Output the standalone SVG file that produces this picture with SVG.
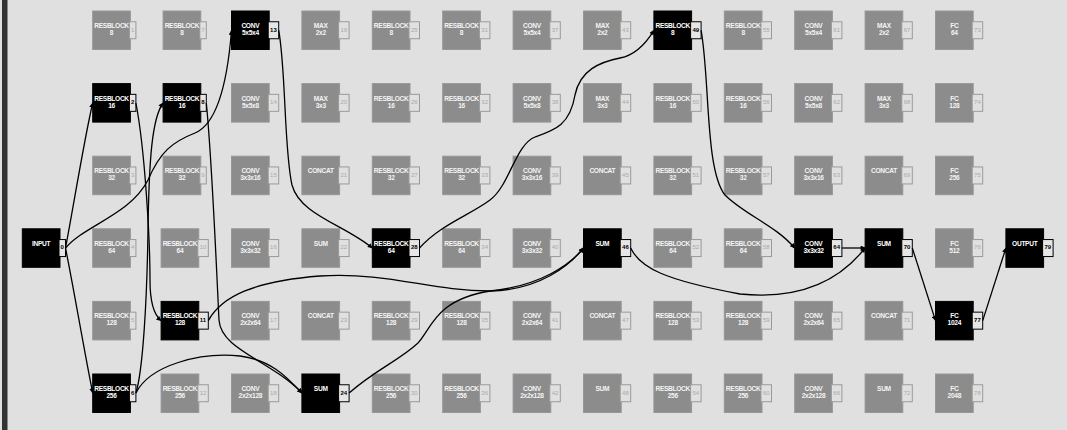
<svg xmlns="http://www.w3.org/2000/svg" width="1067" height="430" viewBox="0 0 1067 430">
<style>
.bg{fill:#e0e0e0}
.node .b{fill:#8c8c8c;stroke:#979797;stroke-width:1}
.node .p{fill:#e0e0e0;stroke:#9a9a9a;stroke-width:1}
.node .l{font-family:"Liberation Sans",Arial,sans-serif;font-weight:bold;font-size:6.6px;letter-spacing:-0.3px;fill:#f4f4f4;text-anchor:middle}
.node .pt{font-family:"Liberation Sans",Arial,sans-serif;font-size:6px;fill:#a8a8a8;text-anchor:middle}
.on .b{fill:#000;stroke:#000}
.on .p{fill:#e6e6e6;stroke:#000}
.on .l{fill:#fff}
.on .pt{fill:#000;font-weight:bold}
.edges path{fill:none;stroke:#000;stroke-width:1.3;marker-end:url(#ah)}
</style>
<defs>
<marker id="ah" viewBox="0 0 10 10" refX="9" refY="5" markerWidth="6" markerHeight="5" markerUnits="userSpaceOnUse" orient="auto">
<path d="M0,0 L10,5 L0,10 z" fill="#000"/>
</marker>
</defs>
<rect class="bg" x="0" y="0" width="1067" height="430"/>
<rect x="2" y="0" width="5.5" height="430" fill="#333"/>

<g id="n0" class="node on" transform="translate(22.3,228.8)"><rect class="b" width="37.7" height="38.5"/><rect class="p" x="36.7" y="10.75" width="6.5" height="17"/><text class="l" x="18.85" y="17">INPUT</text><text class="pt" x="39.95" y="20.5">0</text></g>

<g id="n1" class="node" transform="translate(92.7,11)"><rect class="b" width="37.7" height="38.5"/><rect class="p" x="36.7" y="10.75" width="6.5" height="17"/><text class="l" x="18.85" y="17">RESBLOCK</text><text class="l" x="18.85" y="24">8</text><text class="pt" x="39.95" y="20.5">1</text></g>
<g id="n2" class="node on" transform="translate(92.7,83.6)"><rect class="b" width="37.7" height="38.5"/><rect class="p" x="36.7" y="10.75" width="6.5" height="17"/><text class="l" x="18.85" y="17">RESBLOCK</text><text class="l" x="18.85" y="24">16</text><text class="pt" x="39.95" y="20.5">2</text></g>
<g id="n3" class="node" transform="translate(92.7,156.2)"><rect class="b" width="37.7" height="38.5"/><rect class="p" x="36.7" y="10.75" width="6.5" height="17"/><text class="l" x="18.85" y="17">RESBLOCK</text><text class="l" x="18.85" y="24">32</text><text class="pt" x="39.95" y="20.5">3</text></g>
<g id="n4" class="node" transform="translate(92.7,228.8)"><rect class="b" width="37.7" height="38.5"/><rect class="p" x="36.7" y="10.75" width="6.5" height="17"/><text class="l" x="18.85" y="17">RESBLOCK</text><text class="l" x="18.85" y="24">64</text><text class="pt" x="39.95" y="20.5">4</text></g>
<g id="n5" class="node" transform="translate(92.7,301.4)"><rect class="b" width="37.7" height="38.5"/><rect class="p" x="36.7" y="10.75" width="6.5" height="17"/><text class="l" x="18.85" y="17">RESBLOCK</text><text class="l" x="18.85" y="24">128</text><text class="pt" x="39.95" y="20.5">5</text></g>
<g id="n6" class="node on" transform="translate(92.7,374)"><rect class="b" width="37.7" height="38.5"/><rect class="p" x="36.7" y="10.75" width="6.5" height="17"/><text class="l" x="18.85" y="17">RESBLOCK</text><text class="l" x="18.85" y="24">256</text><text class="pt" x="39.95" y="20.5">6</text></g>

<g id="n7" class="node" transform="translate(163.1,11)"><rect class="b" width="37.7" height="38.5"/><rect class="p" x="36.7" y="10.75" width="6.5" height="17"/><text class="l" x="18.85" y="17">RESBLOCK</text><text class="l" x="18.85" y="24">8</text><text class="pt" x="39.95" y="20.5">7</text></g>
<g id="n8" class="node on" transform="translate(163.1,83.6)"><rect class="b" width="37.7" height="38.5"/><rect class="p" x="36.7" y="10.75" width="6.5" height="17"/><text class="l" x="18.85" y="17">RESBLOCK</text><text class="l" x="18.85" y="24">16</text><text class="pt" x="39.95" y="20.5">8</text></g>
<g id="n9" class="node" transform="translate(163.1,156.2)"><rect class="b" width="37.7" height="38.5"/><rect class="p" x="36.7" y="10.75" width="6.5" height="17"/><text class="l" x="18.85" y="17">RESBLOCK</text><text class="l" x="18.85" y="24">32</text><text class="pt" x="39.95" y="20.5">9</text></g>
<g id="n10" class="node" transform="translate(161.1,228.8)"><rect class="b" width="37.7" height="38.5"/><rect class="p" x="36.7" y="10.75" width="10.5" height="17"/><text class="l" x="18.85" y="17">RESBLOCK</text><text class="l" x="18.85" y="24">64</text><text class="pt" x="41.95" y="20.5">10</text></g>
<g id="n11" class="node on" transform="translate(161.1,301.4)"><rect class="b" width="37.7" height="38.5"/><rect class="p" x="36.7" y="10.75" width="10.5" height="17"/><text class="l" x="18.85" y="17">RESBLOCK</text><text class="l" x="18.85" y="24">128</text><text class="pt" x="41.95" y="20.5">11</text></g>
<g id="n12" class="node" transform="translate(161.1,374)"><rect class="b" width="37.7" height="38.5"/><rect class="p" x="36.7" y="10.75" width="10.5" height="17"/><text class="l" x="18.85" y="17">RESBLOCK</text><text class="l" x="18.85" y="24">256</text><text class="pt" x="41.95" y="20.5">12</text></g>

<g id="n13" class="node on" transform="translate(231.5,11)"><rect class="b" width="37.7" height="38.5"/><rect class="p" x="36.7" y="10.75" width="10.5" height="17"/><text class="l" x="18.85" y="17">CONV</text><text class="l" x="18.85" y="24">5x5x4</text><text class="pt" x="41.95" y="20.5">13</text></g>
<g id="n14" class="node" transform="translate(231.5,83.6)"><rect class="b" width="37.7" height="38.5"/><rect class="p" x="36.7" y="10.75" width="10.5" height="17"/><text class="l" x="18.85" y="17">CONV</text><text class="l" x="18.85" y="24">5x5x8</text><text class="pt" x="41.95" y="20.5">14</text></g>
<g id="n15" class="node" transform="translate(231.5,156.2)"><rect class="b" width="37.7" height="38.5"/><rect class="p" x="36.7" y="10.75" width="10.5" height="17"/><text class="l" x="18.85" y="17">CONV</text><text class="l" x="18.85" y="24">3x3x16</text><text class="pt" x="41.95" y="20.5">15</text></g>
<g id="n16" class="node" transform="translate(231.5,228.8)"><rect class="b" width="37.7" height="38.5"/><rect class="p" x="36.7" y="10.75" width="10.5" height="17"/><text class="l" x="18.85" y="17">CONV</text><text class="l" x="18.85" y="24">3x3x32</text><text class="pt" x="41.95" y="20.5">16</text></g>
<g id="n17" class="node" transform="translate(231.5,301.4)"><rect class="b" width="37.7" height="38.5"/><rect class="p" x="36.7" y="10.75" width="10.5" height="17"/><text class="l" x="18.85" y="17">CONV</text><text class="l" x="18.85" y="24">2x2x64</text><text class="pt" x="41.95" y="20.5">17</text></g>
<g id="n18" class="node" transform="translate(231.5,374)"><rect class="b" width="37.7" height="38.5"/><rect class="p" x="36.7" y="10.75" width="10.5" height="17"/><text class="l" x="18.85" y="17">CONV</text><text class="l" x="18.85" y="24">2x2x128</text><text class="pt" x="41.95" y="20.5">18</text></g>

<g id="n19" class="node" transform="translate(301.9,11)"><rect class="b" width="37.7" height="38.5"/><rect class="p" x="36.7" y="10.75" width="10.5" height="17"/><text class="l" x="18.85" y="17">MAX</text><text class="l" x="18.85" y="24">2x2</text><text class="pt" x="41.95" y="20.5">19</text></g>
<g id="n20" class="node" transform="translate(301.9,83.6)"><rect class="b" width="37.7" height="38.5"/><rect class="p" x="36.7" y="10.75" width="10.5" height="17"/><text class="l" x="18.85" y="17">MAX</text><text class="l" x="18.85" y="24">3x3</text><text class="pt" x="41.95" y="20.5">20</text></g>
<g id="n21" class="node" transform="translate(301.9,156.2)"><rect class="b" width="37.7" height="38.5"/><rect class="p" x="36.7" y="10.75" width="10.5" height="17"/><text class="l" x="18.85" y="17">CONCAT</text><text class="pt" x="41.95" y="20.5">21</text></g>
<g id="n22" class="node" transform="translate(301.9,228.8)"><rect class="b" width="37.7" height="38.5"/><rect class="p" x="36.7" y="10.75" width="10.5" height="17"/><text class="l" x="18.85" y="17">SUM</text><text class="pt" x="41.95" y="20.5">22</text></g>
<g id="n23" class="node" transform="translate(301.9,301.4)"><rect class="b" width="37.7" height="38.5"/><rect class="p" x="36.7" y="10.75" width="10.5" height="17"/><text class="l" x="18.85" y="17">CONCAT</text><text class="pt" x="41.95" y="20.5">23</text></g>
<g id="n24" class="node on" transform="translate(301.9,374)"><rect class="b" width="37.7" height="38.5"/><rect class="p" x="36.7" y="10.75" width="10.5" height="17"/><text class="l" x="18.85" y="17">SUM</text><text class="pt" x="41.95" y="20.5">24</text></g>

<g id="n25" class="node" transform="translate(372.3,11)"><rect class="b" width="37.7" height="38.5"/><rect class="p" x="36.7" y="10.75" width="10.5" height="17"/><text class="l" x="18.85" y="17">RESBLOCK</text><text class="l" x="18.85" y="24">8</text><text class="pt" x="41.95" y="20.5">25</text></g>
<g id="n26" class="node" transform="translate(372.3,83.6)"><rect class="b" width="37.7" height="38.5"/><rect class="p" x="36.7" y="10.75" width="10.5" height="17"/><text class="l" x="18.85" y="17">RESBLOCK</text><text class="l" x="18.85" y="24">16</text><text class="pt" x="41.95" y="20.5">26</text></g>
<g id="n27" class="node" transform="translate(372.3,156.2)"><rect class="b" width="37.7" height="38.5"/><rect class="p" x="36.7" y="10.75" width="10.5" height="17"/><text class="l" x="18.85" y="17">RESBLOCK</text><text class="l" x="18.85" y="24">32</text><text class="pt" x="41.95" y="20.5">27</text></g>
<g id="n28" class="node on" transform="translate(372.3,228.8)"><rect class="b" width="37.7" height="38.5"/><rect class="p" x="36.7" y="10.75" width="10.5" height="17"/><text class="l" x="18.85" y="17">RESBLOCK</text><text class="l" x="18.85" y="24">64</text><text class="pt" x="41.95" y="20.5">28</text></g>
<g id="n29" class="node" transform="translate(372.3,301.4)"><rect class="b" width="37.7" height="38.5"/><rect class="p" x="36.7" y="10.75" width="10.5" height="17"/><text class="l" x="18.85" y="17">RESBLOCK</text><text class="l" x="18.85" y="24">128</text><text class="pt" x="41.95" y="20.5">29</text></g>
<g id="n30" class="node" transform="translate(372.3,374)"><rect class="b" width="37.7" height="38.5"/><rect class="p" x="36.7" y="10.75" width="10.5" height="17"/><text class="l" x="18.85" y="17">RESBLOCK</text><text class="l" x="18.85" y="24">256</text><text class="pt" x="41.95" y="20.5">30</text></g>

<g id="n31" class="node" transform="translate(442.7,11)"><rect class="b" width="37.7" height="38.5"/><rect class="p" x="36.7" y="10.75" width="10.5" height="17"/><text class="l" x="18.85" y="17">RESBLOCK</text><text class="l" x="18.85" y="24">8</text><text class="pt" x="41.95" y="20.5">31</text></g>
<g id="n32" class="node" transform="translate(442.7,83.6)"><rect class="b" width="37.7" height="38.5"/><rect class="p" x="36.7" y="10.75" width="10.5" height="17"/><text class="l" x="18.85" y="17">RESBLOCK</text><text class="l" x="18.85" y="24">16</text><text class="pt" x="41.95" y="20.5">32</text></g>
<g id="n33" class="node" transform="translate(442.7,156.2)"><rect class="b" width="37.7" height="38.5"/><rect class="p" x="36.7" y="10.75" width="10.5" height="17"/><text class="l" x="18.85" y="17">RESBLOCK</text><text class="l" x="18.85" y="24">32</text><text class="pt" x="41.95" y="20.5">33</text></g>
<g id="n34" class="node" transform="translate(442.7,228.8)"><rect class="b" width="37.7" height="38.5"/><rect class="p" x="36.7" y="10.75" width="10.5" height="17"/><text class="l" x="18.85" y="17">RESBLOCK</text><text class="l" x="18.85" y="24">64</text><text class="pt" x="41.95" y="20.5">34</text></g>
<g id="n35" class="node" transform="translate(442.7,301.4)"><rect class="b" width="37.7" height="38.5"/><rect class="p" x="36.7" y="10.75" width="10.5" height="17"/><text class="l" x="18.85" y="17">RESBLOCK</text><text class="l" x="18.85" y="24">128</text><text class="pt" x="41.95" y="20.5">35</text></g>
<g id="n36" class="node" transform="translate(442.7,374)"><rect class="b" width="37.7" height="38.5"/><rect class="p" x="36.7" y="10.75" width="10.5" height="17"/><text class="l" x="18.85" y="17">RESBLOCK</text><text class="l" x="18.85" y="24">256</text><text class="pt" x="41.95" y="20.5">36</text></g>

<g id="n37" class="node" transform="translate(513.1,11)"><rect class="b" width="37.7" height="38.5"/><rect class="p" x="36.7" y="10.75" width="10.5" height="17"/><text class="l" x="18.85" y="17">CONV</text><text class="l" x="18.85" y="24">5x5x4</text><text class="pt" x="41.95" y="20.5">37</text></g>
<g id="n38" class="node" transform="translate(513.1,83.6)"><rect class="b" width="37.7" height="38.5"/><rect class="p" x="36.7" y="10.75" width="10.5" height="17"/><text class="l" x="18.85" y="17">CONV</text><text class="l" x="18.85" y="24">5x5x8</text><text class="pt" x="41.95" y="20.5">38</text></g>
<g id="n39" class="node" transform="translate(513.1,156.2)"><rect class="b" width="37.7" height="38.5"/><rect class="p" x="36.7" y="10.75" width="10.5" height="17"/><text class="l" x="18.85" y="17">CONV</text><text class="l" x="18.85" y="24">3x3x16</text><text class="pt" x="41.95" y="20.5">39</text></g>
<g id="n40" class="node" transform="translate(513.1,228.8)"><rect class="b" width="37.7" height="38.5"/><rect class="p" x="36.7" y="10.75" width="10.5" height="17"/><text class="l" x="18.85" y="17">CONV</text><text class="l" x="18.85" y="24">3x3x32</text><text class="pt" x="41.95" y="20.5">40</text></g>
<g id="n41" class="node" transform="translate(513.1,301.4)"><rect class="b" width="37.7" height="38.5"/><rect class="p" x="36.7" y="10.75" width="10.5" height="17"/><text class="l" x="18.85" y="17">CONV</text><text class="l" x="18.85" y="24">2x2x64</text><text class="pt" x="41.95" y="20.5">41</text></g>
<g id="n42" class="node" transform="translate(513.1,374)"><rect class="b" width="37.7" height="38.5"/><rect class="p" x="36.7" y="10.75" width="10.5" height="17"/><text class="l" x="18.85" y="17">CONV</text><text class="l" x="18.85" y="24">2x2x128</text><text class="pt" x="41.95" y="20.5">42</text></g>

<g id="n43" class="node" transform="translate(583.5,11)"><rect class="b" width="37.7" height="38.5"/><rect class="p" x="36.7" y="10.75" width="10.5" height="17"/><text class="l" x="18.85" y="17">MAX</text><text class="l" x="18.85" y="24">2x2</text><text class="pt" x="41.95" y="20.5">43</text></g>
<g id="n44" class="node" transform="translate(583.5,83.6)"><rect class="b" width="37.7" height="38.5"/><rect class="p" x="36.7" y="10.75" width="10.5" height="17"/><text class="l" x="18.85" y="17">MAX</text><text class="l" x="18.85" y="24">3x3</text><text class="pt" x="41.95" y="20.5">44</text></g>
<g id="n45" class="node" transform="translate(583.5,156.2)"><rect class="b" width="37.7" height="38.5"/><rect class="p" x="36.7" y="10.75" width="10.5" height="17"/><text class="l" x="18.85" y="17">CONCAT</text><text class="pt" x="41.95" y="20.5">45</text></g>
<g id="n46" class="node on" transform="translate(583.5,228.8)"><rect class="b" width="37.7" height="38.5"/><rect class="p" x="36.7" y="10.75" width="10.5" height="17"/><text class="l" x="18.85" y="17">SUM</text><text class="pt" x="41.95" y="20.5">46</text></g>
<g id="n47" class="node" transform="translate(583.5,301.4)"><rect class="b" width="37.7" height="38.5"/><rect class="p" x="36.7" y="10.75" width="10.5" height="17"/><text class="l" x="18.85" y="17">CONCAT</text><text class="pt" x="41.95" y="20.5">47</text></g>
<g id="n48" class="node" transform="translate(583.5,374)"><rect class="b" width="37.7" height="38.5"/><rect class="p" x="36.7" y="10.75" width="10.5" height="17"/><text class="l" x="18.85" y="17">SUM</text><text class="pt" x="41.95" y="20.5">48</text></g>

<g id="n49" class="node on" transform="translate(653.9,11)"><rect class="b" width="37.7" height="38.5"/><rect class="p" x="36.7" y="10.75" width="10.5" height="17"/><text class="l" x="18.85" y="17">RESBLOCK</text><text class="l" x="18.85" y="24">8</text><text class="pt" x="41.95" y="20.5">49</text></g>
<g id="n50" class="node" transform="translate(653.9,83.6)"><rect class="b" width="37.7" height="38.5"/><rect class="p" x="36.7" y="10.75" width="10.5" height="17"/><text class="l" x="18.85" y="17">RESBLOCK</text><text class="l" x="18.85" y="24">16</text><text class="pt" x="41.95" y="20.5">50</text></g>
<g id="n51" class="node" transform="translate(653.9,156.2)"><rect class="b" width="37.7" height="38.5"/><rect class="p" x="36.7" y="10.75" width="10.5" height="17"/><text class="l" x="18.85" y="17">RESBLOCK</text><text class="l" x="18.85" y="24">32</text><text class="pt" x="41.95" y="20.5">51</text></g>
<g id="n52" class="node" transform="translate(653.9,228.8)"><rect class="b" width="37.7" height="38.5"/><rect class="p" x="36.7" y="10.75" width="10.5" height="17"/><text class="l" x="18.85" y="17">RESBLOCK</text><text class="l" x="18.85" y="24">64</text><text class="pt" x="41.95" y="20.5">52</text></g>
<g id="n53" class="node" transform="translate(653.9,301.4)"><rect class="b" width="37.7" height="38.5"/><rect class="p" x="36.7" y="10.75" width="10.5" height="17"/><text class="l" x="18.85" y="17">RESBLOCK</text><text class="l" x="18.85" y="24">128</text><text class="pt" x="41.95" y="20.5">53</text></g>
<g id="n54" class="node" transform="translate(653.9,374)"><rect class="b" width="37.7" height="38.5"/><rect class="p" x="36.7" y="10.75" width="10.5" height="17"/><text class="l" x="18.85" y="17">RESBLOCK</text><text class="l" x="18.85" y="24">256</text><text class="pt" x="41.95" y="20.5">54</text></g>

<g id="n55" class="node" transform="translate(724.3,11)"><rect class="b" width="37.7" height="38.5"/><rect class="p" x="36.7" y="10.75" width="10.5" height="17"/><text class="l" x="18.85" y="17">RESBLOCK</text><text class="l" x="18.85" y="24">8</text><text class="pt" x="41.95" y="20.5">55</text></g>
<g id="n56" class="node" transform="translate(724.3,83.6)"><rect class="b" width="37.7" height="38.5"/><rect class="p" x="36.7" y="10.75" width="10.5" height="17"/><text class="l" x="18.85" y="17">RESBLOCK</text><text class="l" x="18.85" y="24">16</text><text class="pt" x="41.95" y="20.5">56</text></g>
<g id="n57" class="node" transform="translate(724.3,156.2)"><rect class="b" width="37.7" height="38.5"/><rect class="p" x="36.7" y="10.75" width="10.5" height="17"/><text class="l" x="18.85" y="17">RESBLOCK</text><text class="l" x="18.85" y="24">32</text><text class="pt" x="41.95" y="20.5">57</text></g>
<g id="n58" class="node" transform="translate(724.3,228.8)"><rect class="b" width="37.7" height="38.5"/><rect class="p" x="36.7" y="10.75" width="10.5" height="17"/><text class="l" x="18.85" y="17">RESBLOCK</text><text class="l" x="18.85" y="24">64</text><text class="pt" x="41.95" y="20.5">58</text></g>
<g id="n59" class="node" transform="translate(724.3,301.4)"><rect class="b" width="37.7" height="38.5"/><rect class="p" x="36.7" y="10.75" width="10.5" height="17"/><text class="l" x="18.85" y="17">RESBLOCK</text><text class="l" x="18.85" y="24">128</text><text class="pt" x="41.95" y="20.5">59</text></g>
<g id="n60" class="node" transform="translate(724.3,374)"><rect class="b" width="37.7" height="38.5"/><rect class="p" x="36.7" y="10.75" width="10.5" height="17"/><text class="l" x="18.85" y="17">RESBLOCK</text><text class="l" x="18.85" y="24">256</text><text class="pt" x="41.95" y="20.5">60</text></g>

<g id="n61" class="node" transform="translate(794.7,11)"><rect class="b" width="37.7" height="38.5"/><rect class="p" x="36.7" y="10.75" width="10.5" height="17"/><text class="l" x="18.85" y="17">CONV</text><text class="l" x="18.85" y="24">5x5x4</text><text class="pt" x="41.95" y="20.5">61</text></g>
<g id="n62" class="node" transform="translate(794.7,83.6)"><rect class="b" width="37.7" height="38.5"/><rect class="p" x="36.7" y="10.75" width="10.5" height="17"/><text class="l" x="18.85" y="17">CONV</text><text class="l" x="18.85" y="24">5x5x8</text><text class="pt" x="41.95" y="20.5">62</text></g>
<g id="n63" class="node" transform="translate(794.7,156.2)"><rect class="b" width="37.7" height="38.5"/><rect class="p" x="36.7" y="10.75" width="10.5" height="17"/><text class="l" x="18.85" y="17">CONV</text><text class="l" x="18.85" y="24">3x3x16</text><text class="pt" x="41.95" y="20.5">63</text></g>
<g id="n64" class="node on" transform="translate(794.7,228.8)"><rect class="b" width="37.7" height="38.5"/><rect class="p" x="36.7" y="10.75" width="10.5" height="17"/><text class="l" x="18.85" y="17">CONV</text><text class="l" x="18.85" y="24">3x3x32</text><text class="pt" x="41.95" y="20.5">64</text></g>
<g id="n65" class="node" transform="translate(794.7,301.4)"><rect class="b" width="37.7" height="38.5"/><rect class="p" x="36.7" y="10.75" width="10.5" height="17"/><text class="l" x="18.85" y="17">CONV</text><text class="l" x="18.85" y="24">2x2x64</text><text class="pt" x="41.95" y="20.5">65</text></g>
<g id="n66" class="node" transform="translate(794.7,374)"><rect class="b" width="37.7" height="38.5"/><rect class="p" x="36.7" y="10.75" width="10.5" height="17"/><text class="l" x="18.85" y="17">CONV</text><text class="l" x="18.85" y="24">2x2x128</text><text class="pt" x="41.95" y="20.5">66</text></g>

<g id="n67" class="node" transform="translate(865.1,11)"><rect class="b" width="37.7" height="38.5"/><rect class="p" x="36.7" y="10.75" width="10.5" height="17"/><text class="l" x="18.85" y="17">MAX</text><text class="l" x="18.85" y="24">2x2</text><text class="pt" x="41.95" y="20.5">67</text></g>
<g id="n68" class="node" transform="translate(865.1,83.6)"><rect class="b" width="37.7" height="38.5"/><rect class="p" x="36.7" y="10.75" width="10.5" height="17"/><text class="l" x="18.85" y="17">MAX</text><text class="l" x="18.85" y="24">3x3</text><text class="pt" x="41.95" y="20.5">68</text></g>
<g id="n69" class="node" transform="translate(865.1,156.2)"><rect class="b" width="37.7" height="38.5"/><rect class="p" x="36.7" y="10.75" width="10.5" height="17"/><text class="l" x="18.85" y="17">CONCAT</text><text class="pt" x="41.95" y="20.5">69</text></g>
<g id="n70" class="node on" transform="translate(865.1,228.8)"><rect class="b" width="37.7" height="38.5"/><rect class="p" x="36.7" y="10.75" width="10.5" height="17"/><text class="l" x="18.85" y="17">SUM</text><text class="pt" x="41.95" y="20.5">70</text></g>
<g id="n71" class="node" transform="translate(865.1,301.4)"><rect class="b" width="37.7" height="38.5"/><rect class="p" x="36.7" y="10.75" width="10.5" height="17"/><text class="l" x="18.85" y="17">CONCAT</text><text class="pt" x="41.95" y="20.5">71</text></g>
<g id="n72" class="node" transform="translate(865.1,374)"><rect class="b" width="37.7" height="38.5"/><rect class="p" x="36.7" y="10.75" width="10.5" height="17"/><text class="l" x="18.85" y="17">SUM</text><text class="pt" x="41.95" y="20.5">72</text></g>

<g id="n73" class="node" transform="translate(935.5,11)"><rect class="b" width="37.7" height="38.5"/><rect class="p" x="36.7" y="10.75" width="10.5" height="17"/><text class="l" x="18.85" y="17">FC</text><text class="l" x="18.85" y="24">64</text><text class="pt" x="41.95" y="20.5">73</text></g>
<g id="n74" class="node" transform="translate(935.5,83.6)"><rect class="b" width="37.7" height="38.5"/><rect class="p" x="36.7" y="10.75" width="10.5" height="17"/><text class="l" x="18.85" y="17">FC</text><text class="l" x="18.85" y="24">128</text><text class="pt" x="41.95" y="20.5">74</text></g>
<g id="n75" class="node" transform="translate(935.5,156.2)"><rect class="b" width="37.7" height="38.5"/><rect class="p" x="36.7" y="10.75" width="10.5" height="17"/><text class="l" x="18.85" y="17">FC</text><text class="l" x="18.85" y="24">256</text><text class="pt" x="41.95" y="20.5">75</text></g>
<g id="n76" class="node" transform="translate(935.5,228.8)"><rect class="b" width="37.7" height="38.5"/><rect class="p" x="36.7" y="10.75" width="10.5" height="17"/><text class="l" x="18.85" y="17">FC</text><text class="l" x="18.85" y="24">512</text><text class="pt" x="41.95" y="20.5">76</text></g>
<g id="n77" class="node on" transform="translate(935.5,301.4)"><rect class="b" width="37.7" height="38.5"/><rect class="p" x="36.7" y="10.75" width="10.5" height="17"/><text class="l" x="18.85" y="17">FC</text><text class="l" x="18.85" y="24">1024</text><text class="pt" x="41.95" y="20.5">77</text></g>
<g id="n78" class="node" transform="translate(935.5,374)"><rect class="b" width="37.7" height="38.5"/><rect class="p" x="36.7" y="10.75" width="10.5" height="17"/><text class="l" x="18.85" y="17">FC</text><text class="l" x="18.85" y="24">2048</text><text class="pt" x="41.95" y="20.5">78</text></g>

<g id="n79" class="node on" transform="translate(1005.9,228.8)"><rect class="b" width="37.7" height="38.5"/><rect class="p" x="36.7" y="10.75" width="10.5" height="17"/><text class="l" x="18.85" y="17">OUTPUT</text><text class="pt" x="41.95" y="20.5">79</text></g>

<g id="edges" class="edges">
<path d="M65.5,248 C72,215 84,140 92.7,103"/>
<path d="M65.5,248 C74,290 84,350 92.7,393"/>
<path d="M65.5,248 C85,225 130,215 148,180 C160,152 172,142 195,133 C212,126 226,100 231.5,30.5"/>
<path d="M135.9,103 C145,150 150,240 150,280 C150,303 154,315 161.1,320.6"/>
<path d="M135.9,393 C143,370 147,300 148,230 C149,160 152,118 163.1,103"/>
<path d="M135.9,393 C150,365 200,352 240,356 C270,360 285,375 301.9,393"/>
<path d="M206.3,103 C212,160 217,280 219,320 C221,350 270,360 301.9,393"/>
<path d="M208.3,320.6 C222,296 255,281 320,276 C390,272 430,291 490,291 C540,290 570,265 583.5,248"/>
<path d="M349.1,393 C375,370 400,360 418,343 C432,328 435,300 490,291 C540,286 570,265 583.5,248"/>
<path d="M278.7,30.3 C286,70 284,150 292,185 C300,215 345,225 372.3,248"/>
<path d="M419.5,248 C440,225 470,215 490,200 C510,185 515,145 535,137 C555,130 570,125 575,95 C580,70 600,62 620,58 C635,55 645,45 653.9,30.3"/>
<path d="M630.7,248 C640,268 665,280 740,294 C800,300 840,280 865.1,248"/>
<path d="M701.1,30.3 C710,80 705,170 725,195 C745,215 775,225 794.7,248"/>
<path d="M841.9,248 L865.1,248"/>
<path d="M912.3,248 L935.5,320.6"/>
<path d="M982.7,320.6 L1005.9,248"/>
</g>
</svg>
